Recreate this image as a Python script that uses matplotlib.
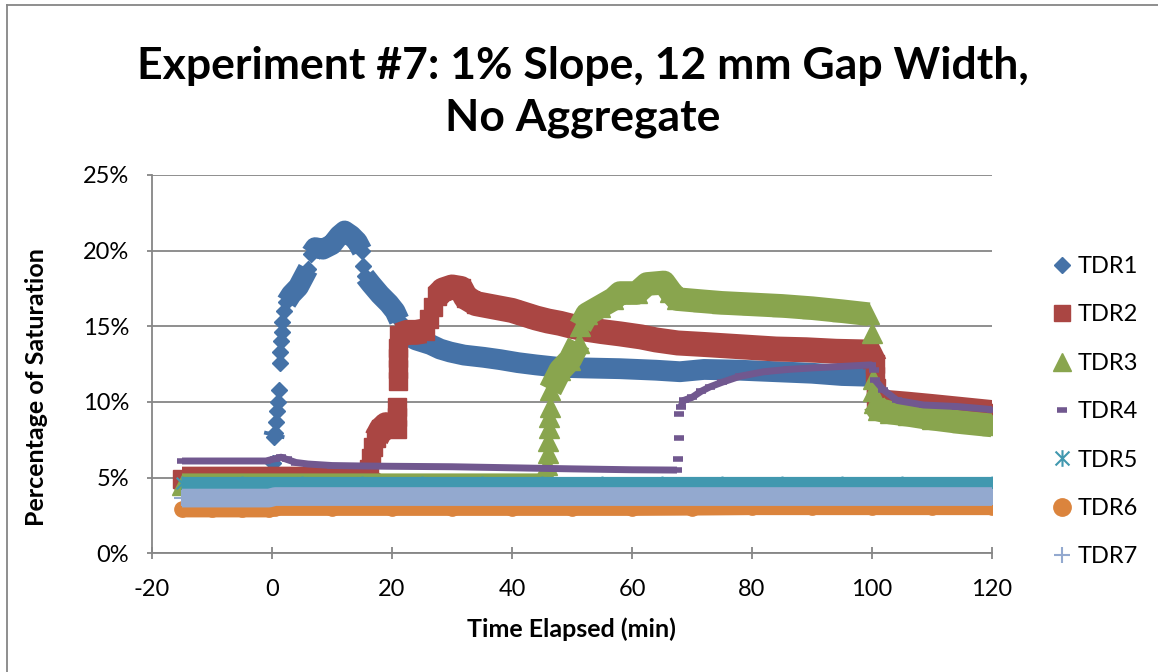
import numpy as np
import matplotlib
matplotlib.use("Agg")
import matplotlib.pyplot as plt
from matplotlib.lines import Line2D
from matplotlib.path import Path
from matplotlib.ticker import MultipleLocator, PercentFormatter

plt.rcParams['font.family'] = ['Lato', 'DejaVu Sans']
plt.rcParams['axes.unicode_minus'] = False

# Series (time in min, saturation in %)
x1 = [-15, -10, -5, -0.5, 0.2, 0.3, 0.45, 0.6, 0.8, 1.0, 1.2, 1.3, 1.4, 1.5, 1.6, 1.7,
      2.0, 2.4, 3.2, 4.4, 5.2, 6.0, 6.5, 7.2, 8.5, 10.0, 11.2, 12.1, 13.2, 14.2, 15.0,
      15.2, 15.5, 16.5, 18.0, 19.5, 20.5, 21.2, 21.6, 22.5, 24.0, 26.4, 28.0, 29.7, 32.0,
      35.3, 38.0, 41.0, 44.0, 47.5, 52.0, 58.0, 64.0, 68.0, 72.0, 78.0, 84.0, 90.0, 95.0,
      99.5, 100.5, 102.0, 105.0, 110.0, 115.0, 120.0]
y1 = [4.3, 4.3, 4.3, 4.3, 6.0, 7.7, 7.95, 8.7, 9.4, 10.0, 10.8, 12.6, 13.3, 14.0, 14.6, 15.3,
      16.0, 16.6, 17.1, 17.6, 18.2, 18.8, 19.8, 20.2, 20.1, 20.4, 21.0, 21.3, 21.0, 20.6, 20.0,
      19.0, 18.3, 17.8, 17.1, 16.5, 16.0, 15.4, 14.8, 14.4, 14.1, 13.8, 13.5, 13.3, 13.1,
      12.95, 12.8, 12.6, 12.45, 12.3, 12.25, 12.2, 12.1, 12.0, 12.15, 12.1, 12.0, 11.9, 11.75,
      11.7, 9.6, 9.35, 9.2, 8.95, 8.7, 8.5]

x2 = [-15, -10, -5, 0, 5, 10, 15.5, 16.2, 16.5, 16.9, 17.4, 18.2, 19.0, 20.0, 20.8, 20.8,
      20.8, 21.0, 21.0, 21.0, 21.0, 21.1, 22.5, 24.0, 25.5, 26.2, 26.8, 27.5, 28.5, 30.0,
      31.5, 32.3, 34.0, 36.0, 38.0, 40.0, 42.0, 44.0, 46.0, 48.0, 50.0, 52.5, 55.0, 58.0,
      61.5, 64.0, 67.6, 72.0, 78.0, 84.0, 89.0, 94.0, 99.5, 100.5, 100.5, 100.6, 100.7,
      101.5, 103.0, 106.0, 110.0, 115.0, 120.0]
y2 = [4.9, 4.9, 4.9, 4.9, 4.9, 4.9, 4.95, 5.6, 6.3, 7.0, 7.6, 8.2, 8.5, 8.4, 8.2, 9.0,
      9.7, 11.4, 12.2, 12.9, 13.6, 14.4, 14.6, 14.6, 14.7, 15.5, 16.3, 17.0, 17.4, 17.6,
      17.5, 16.9, 16.5, 16.35, 16.2, 16.05, 15.8, 15.55, 15.35, 15.2, 15.0, 14.8, 14.65, 14.5,
      14.3, 14.1, 13.9, 13.8, 13.65, 13.5, 13.45, 13.35, 13.3, 12.5, 11.7, 10.9, 10.2,
      10.0, 9.95, 9.85, 9.7, 9.5, 9.3]

x3 = [-15, -10, -5, 0, 10, 20, 30, 40, 45.5, 45.8, 45.9, 46.0, 46.05, 46.1, 46.2, 46.3,
      46.4, 48.05, 49.7, 51.1, 51.4, 52.5, 54.7, 56.9, 58.0, 60.8, 62.5, 65.3, 66.4, 67.5,
      71.9, 75.0, 80.0, 85.0, 90.0, 95.0, 99.5, 100.0, 100.1, 100.2, 100.4, 101.0, 103.0,
      106.0, 110.0, 115.0, 120.0]
y3 = [4.5, 4.5, 4.5, 4.5, 4.5, 4.5, 4.5, 4.5, 4.5, 5.2, 5.85, 6.6, 7.4, 8.3, 9.0, 9.7,
      10.8, 12.1, 12.8, 13.9, 15.0, 15.8, 16.3, 16.8, 17.2, 17.2, 17.8, 17.9, 17.3, 16.8,
      16.65, 16.55, 16.45, 16.35, 16.2, 16.0, 15.8, 14.55, 11.5, 10.7, 9.9, 9.5, 9.3,
      9.15, 8.9, 8.65, 8.45]

x4 = [-15, -10, -5, -1, 0.5, 1.5, 2.5, 4.0, 6.0, 10, 15, 20, 30, 40, 50, 60, 67.5, 67.7,
      67.8, 67.9, 68.1, 68.6, 70, 71.5, 73, 75, 78, 82, 86, 90, 95, 99.8, 100.3, 100.5,
      101.9, 104.2, 108.6, 114.2, 120]
y4 = [6.1, 6.1, 6.1, 6.1, 6.25, 6.35, 6.2, 6.0, 5.9, 5.8, 5.77, 5.75, 5.72, 5.65, 5.58,
      5.52, 5.5, 6.2, 7.6, 9.2, 9.65, 10.1, 10.3, 10.7, 11.0, 11.3, 11.7, 12.0, 12.15, 12.25,
      12.35, 12.45, 12.1, 11.45, 10.8, 10.1, 9.8, 9.7, 9.5]

x5 = [-15, -5, 5, 15, 25, 35, 45, 55, 65, 75, 85, 95, 105, 120]
y5 = [4.65, 4.65, 4.65, 4.65, 4.65, 4.65, 4.65, 4.65, 4.65, 4.65, 4.65, 4.65, 4.65, 4.65]

x6 = [-15, -10, -5, -0.5, 0.5, 10, 20, 30, 40, 50, 60, 70, 80, 90, 100, 110, 120]
y6 = [2.9, 2.9, 2.9, 2.9, 3.0, 3.0, 3.0, 3.0, 3.0, 3.0, 3.0, 3.02, 3.05, 3.05, 3.05, 3.05, 3.05]

x7 = [-15, -10, -5, -0.5, 0.5, 10, 20, 30, 40, 50, 60, 70, 80, 90, 100, 110, 120]
y7 = [3.65, 3.65, 3.65, 3.65, 3.75, 3.75, 3.75, 3.75, 3.75, 3.75, 3.75, 3.75, 3.75, 3.75,
      3.75, 3.75, 3.75]

labels = ['TDR1', 'TDR2', 'TDR3', 'TDR4', 'TDR5', 'TDR6', 'TDR7']
colors = ['#4572A7', '#AA4643', '#89A54E', '#71588F', '#4198AF', '#DB843D', '#93A9CF']

# asterisk marker: X plus a vertical stroke
star = Path([(-0.5, -0.5), (0.5, 0.5), (-0.5, 0.5), (0.5, -0.5), (0, -0.6), (0, 0.6)],
            [Path.MOVETO, Path.LINETO, Path.MOVETO, Path.LINETO, Path.MOVETO, Path.LINETO])

# (marker, marker size, band width in pt, marker edge width, legend marker size)
styles = [('D', 8, 15, 1, 8), ('s', 12.5, 18, 1, 11.5), ('^', 14, 17, 1, 12.5),
          ('_', 7, 5, 4, 7), (star, 10, 9.5, 1.5, 12), ('o', 11, 11.5, 1, 12.5),
          ('+', 12, 13.5, 1.5, 12)]

series = [(x1, y1), (x2, y2), (x3, y3), (x4, y4), (x5, y5), (x6, y6), (x7, y7)]

W, H = 1158, 672
fig = plt.figure(figsize=(W / 100, H / 100), dpi=100)
ax = fig.add_axes([152 / W, 1 - 553.3 / H, 840 / W, 378.3 / H])
ax.set_xlim(-20, 120)
ax.set_ylim(0, 25)


def break_steep(x, y):
    # leave jumps as separate markers, like the sparse points in the original
    pts = ax.transData.transform(np.column_stack([x, y]))
    xs, ys = [x[0]], [y[0]]
    for i in range(1, len(x)):
        dx = abs(pts[i, 0] - pts[i - 1, 0])
        dy = abs(pts[i, 1] - pts[i - 1, 1])
        if dy > 5 and dy > 2.5 * dx:
            xs.append(np.nan)
            ys.append(np.nan)
        xs.append(x[i])
        ys.append(y[i])
    return xs, ys


for k, ((x, y), c, (m, ms, lw, mew, _)) in enumerate(zip(series, colors, styles)):
    xb, yb = break_steep(x, y)
    ax.plot(xb, yb, color=c, lw=lw, solid_capstyle='butt', solid_joinstyle='round',
            zorder=3 + k)
    ax.plot(x, y, ls='none', marker=m, ms=ms, color=c, mec=c, mew=mew, zorder=3 + k)

grid_c = '#868686'
ax.yaxis.set_major_locator(MultipleLocator(5))
ax.xaxis.set_major_locator(MultipleLocator(20))
ax.yaxis.set_major_formatter(PercentFormatter(decimals=0))
ax.grid(axis='y', color=grid_c, lw=1.3, zorder=1)
ax.set_axisbelow(True)
for s in ['top', 'right']:
    ax.spines[s].set_visible(False)
for s in ['left', 'bottom']:
    ax.spines[s].set_color(grid_c)
    ax.spines[s].set_linewidth(1.3)
ax.tick_params(axis='y', direction='out', length=3.6, width=1.3, color=grid_c,
               labelsize=17, pad=13)
ax.tick_params(axis='x', direction='inout', length=9, width=1.3, color=grid_c,
               labelsize=17, pad=14)

ax.set_xlabel('Time Elapsed (min)', fontsize=18, fontweight='bold')
ax.xaxis.set_label_coords((571.5 - 152) / 840, (553.3 - 617) / 378.3)
ax.set_ylabel('Percentage of Saturation', fontsize=18, fontweight='bold')
ax.yaxis.set_label_coords((48 - 152) / 840, (553.3 - 387) / 378.3)

fig.text(583 / W, 1 - 79 / H, 'Experiment #7: 1% Slope, 12 mm Gap Width,',
         ha='center', va='baseline', fontsize=32, fontweight='bold')
fig.text(583 / W, 1 - 131 / H, 'No Aggregate',
         ha='center', va='baseline', fontsize=32, fontweight='bold')

handles = [Line2D([], [], ls='none', marker=m, ms=lms, color=c, mec=c, mew=mew)
           for c, (m, ms, lw, mew, lms) in zip(colors, styles)]
fig.legend(handles, labels, loc='center left', bbox_to_anchor=(1050 / W, 1 - 411.7 / H),
           frameon=False, fontsize=17, handlelength=1.0, handletextpad=0.15,
           labelspacing=1.16, borderpad=0, borderaxespad=0)

# chart area border (left and top edges visible in the original crop)
fig.add_artist(Line2D([7 / W, 7 / W], [0, 1 - 5 / H], transform=fig.transFigure,
                      color=grid_c, lw=1.3))
fig.add_artist(Line2D([7 / W, 1], [1 - 5 / H, 1 - 5 / H], transform=fig.transFigure,
                      color=grid_c, lw=1.3))

fig.savefig('out.png', dpi=100)
